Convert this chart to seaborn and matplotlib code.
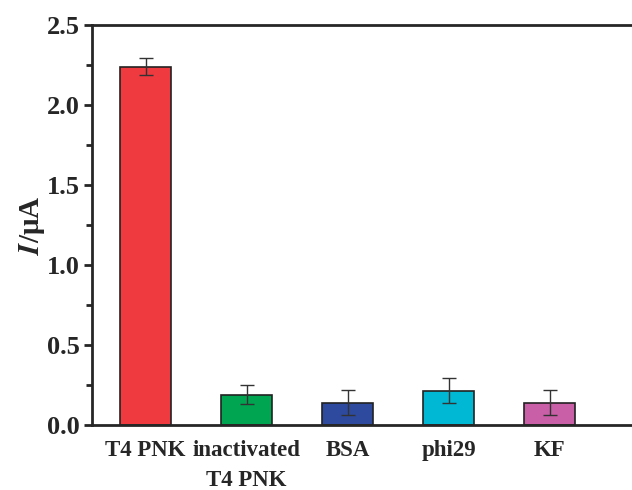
import pandas as pd
import seaborn as sns
import matplotlib.pyplot as plt
from matplotlib.ticker import MultipleLocator

samples = ["T4 PNK", "inactivated\nT4 PNK", "BSA", "phi29", "KF"]
current = [2.24, 0.19, 0.14, 0.215, 0.14]
errors = [0.055, 0.06, 0.08, 0.078, 0.08]
colors = ["#EF3A40", "#00A551", "#2D4A9E", "#00B8D4", "#C95FA6"]

sns.set_style("ticks")
plt.rcParams["font.family"] = ["Liberation Serif", "DejaVu Serif"]
plt.rcParams["font.weight"] = "bold"
plt.rcParams["mathtext.fontset"] = "stix"

df = pd.DataFrame({"sample": samples, "current": current})

fig = plt.figure(figsize=(6.32, 4.9), dpi=100)
ax = fig.add_axes([0.1456, 0.1327, 0.86, 0.8163])
sns.barplot(data=df, x="sample", y="current", hue="sample", palette=colors,
            saturation=1, width=0.51, edgecolor="#222222", linewidth=1.2,
            legend=False, ax=ax)
ax.errorbar(range(len(samples)), current, yerr=errors, fmt="none",
            ecolor="#333333", elinewidth=1.0, capsize=5, capthick=1.0)

ax.set_xlim(-0.53, 4.85)
ax.set_ylim(0, 2.5)
ax.yaxis.set_major_locator(MultipleLocator(0.5))
ax.yaxis.set_minor_locator(MultipleLocator(0.25))
ax.tick_params(axis="y", which="major", length=6, width=2, labelsize=19, pad=3)
ax.tick_params(axis="y", which="minor", length=4, width=2)
ax.tick_params(axis="x", length=0, labelsize=16.5, pad=11)
for lab in ax.get_xticklabels():
    lab.set_fontweight("bold")
    lab.set_linespacing(1.55)
for lab in ax.get_yticklabels():
    lab.set_fontweight("bold")
ax.set_xlabel("")
ax.set_ylabel(r"$\mathbfit{I}$/μA", fontsize=21, fontweight="bold", labelpad=0)
for side in ["left", "bottom", "top"]:
    ax.spines[side].set_linewidth(2)
    ax.spines[side].set_visible(True)
ax.spines["right"].set_visible(False)

fig.savefig("out.png", dpi=100)
